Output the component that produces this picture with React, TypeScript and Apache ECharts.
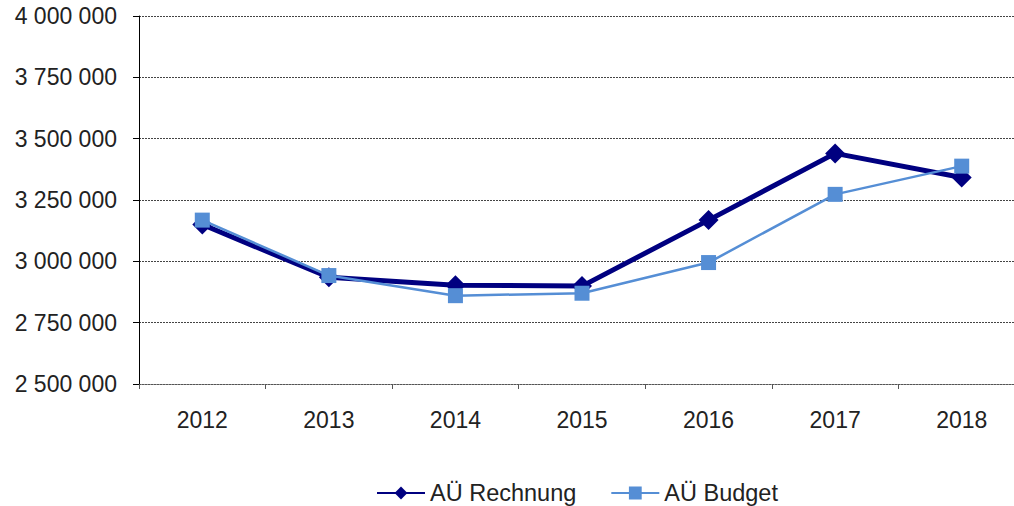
import React, { useEffect, useRef } from "react";
import * as echarts from "echarts";

const categories = ["2012", "2013", "2014", "2015", "2016", "2017", "2018"];
const rechnung = [3150000, 2935000, 2903000, 2899000, 3168000, 3440000, 3342000];
const budget = [3168000, 2942000, 2860000, 2870000, 2995000, 3273000, 3388000];
const seriesNames = ["AÜ Rechnung", "AÜ Budget"];

const fmt = (v: number) => String(Math.round(v)).replace(/\B(?=(\d{3})+(?!\d))/g, " ");

export default function App() {
  const ref = useRef<HTMLDivElement>(null);
  useEffect(() => {
    document.body.style.margin = "0";
    const chart = echarts.init(ref.current!, null, { renderer: "svg" });
    const font = "'Liberation Sans', Arial, sans-serif";
    chart.setOption({
      animation: false,
      textStyle: { fontFamily: font },
      grid: { left: 139, top: 16, right: 0, bottom: 122 },
      legend: {
        left: 376,
        top: 481,
        padding: 0,
        itemWidth: 48,
        itemHeight: 16,
        itemGap: 34,
        textStyle: { fontSize: 23.5, lineHeight: 24, color: "#222", fontFamily: font },
        data: seriesNames,
      },
      xAxis: {
        type: "category",
        data: categories,
        boundaryGap: true,
        axisLine: { show: true, lineStyle: { color: "#555", type: [2, 1], width: 1 } },
        axisTick: { show: true, length: 5, lineStyle: { color: "#555" } },
        axisLabel: { fontSize: 23, color: "#222", margin: 24, fontFamily: font },
      },
      yAxis: {
        type: "value",
        min: 2500000,
        max: 4000000,
        interval: 250000,
        axisLine: { show: true, lineStyle: { color: "#000", width: 1 } },
        axisTick: { show: true, length: 6, lineStyle: { color: "#000" } },
        axisLabel: { fontSize: 23, color: "#222", margin: 22, formatter: fmt, fontFamily: font },
        splitLine: { show: true, lineStyle: { color: "#444", type: [2, 1], width: 1 } },
      },
      series: [
        {
          name: seriesNames[0],
          type: "line",
          data: rechnung,
          symbol: "diamond",
          symbolSize: 20,
          lineStyle: { color: "#000080", width: 5 },
          itemStyle: { color: "#000080" },
          z: 2,
        },
        {
          name: seriesNames[1],
          type: "line",
          data: budget,
          symbol: "rect",
          symbolSize: 15,
          lineStyle: { color: "#558ED5", width: 2.5 },
          itemStyle: { color: "#558ED5" },
          z: 3,
        },
      ],
    });
    return () => chart.dispose();
  }, []);
  return (
    <div style={{ width: 1014, height: 506, overflow: "hidden" }}>
      <div ref={ref} style={{ width: 1025, height: 506 }} />
    </div>
  );
}
